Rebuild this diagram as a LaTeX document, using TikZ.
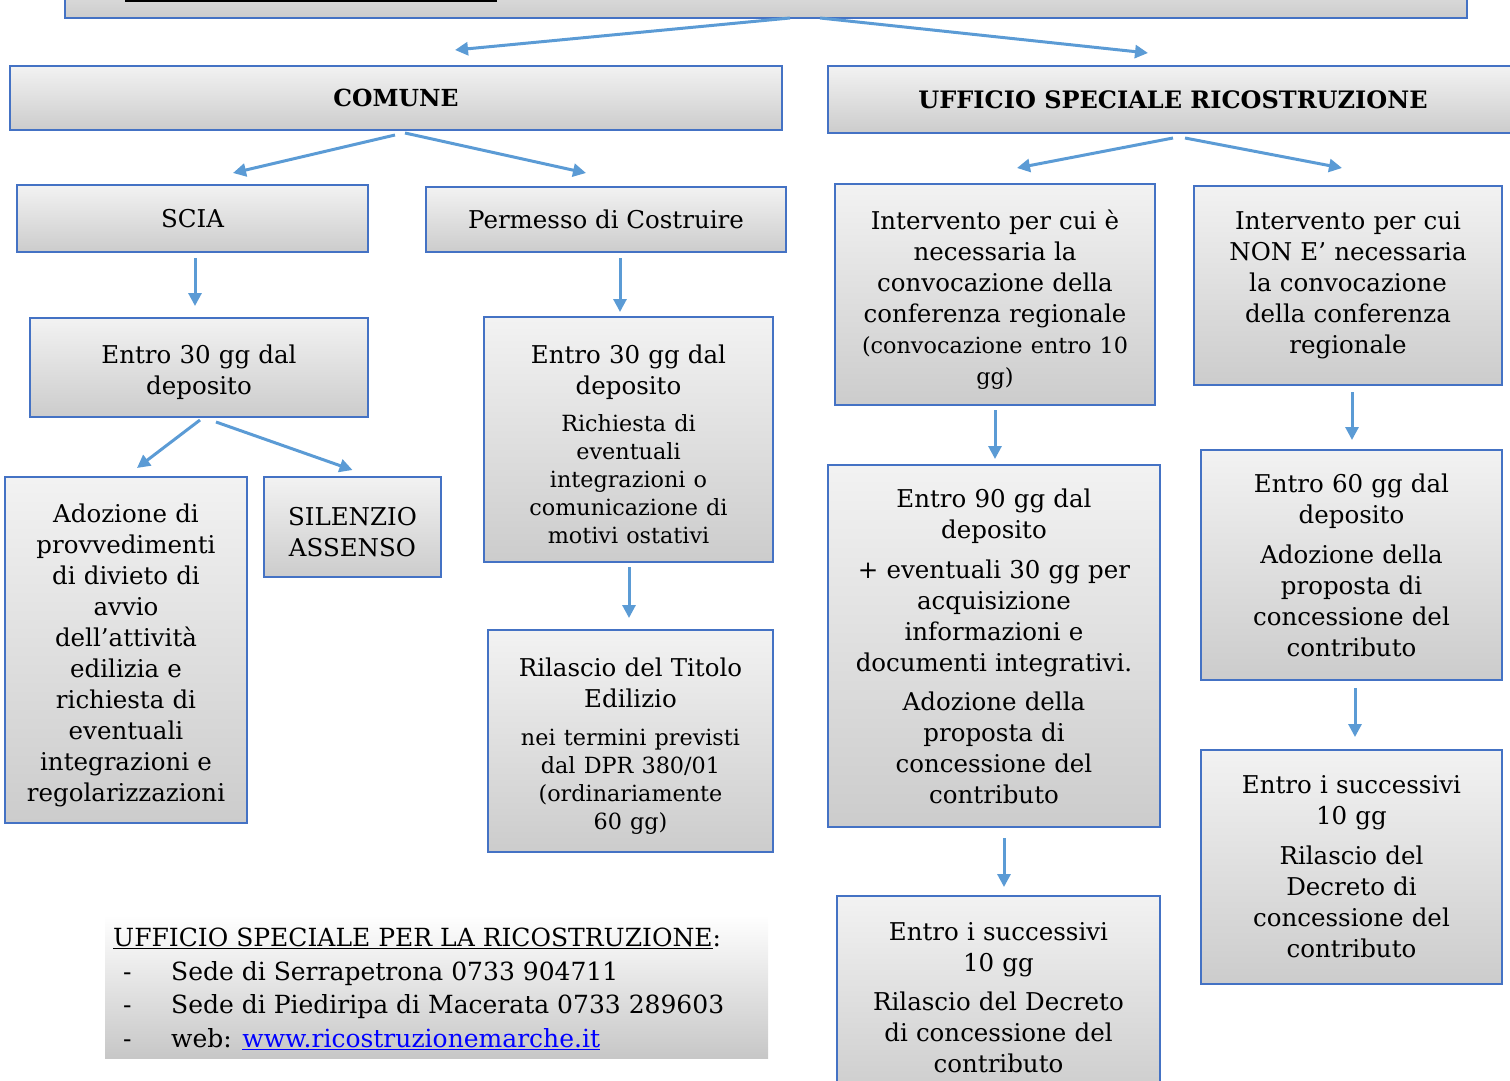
\documentclass[tikz,border=0pt]{standalone}
\usepackage{fontspec}
\setmainfont{DejaVu Serif}
\usetikzlibrary{arrows.meta,calc}
\definecolor{boxblue}{HTML}{4472C4}
\definecolor{arrblue}{HTML}{5B9BD5}
\definecolor{linkblue}{HTML}{0000FF}
\newcommand{\mf}{\fontsize{24.5}{31}\selectfont}
\newcommand{\sm}{\fontsize{22.3}{28}\selectfont}
\newcommand{\ff}{\fontsize{25}{33}\selectfont}
\newcommand{\dn}{\rule{0pt}{29pt}}
\begin{document}
\begin{tikzpicture}[x=1pt,y=-1pt,
  box/.style={draw=boxblue, line width=2.5pt, top color=black!5, middle color=white, bottom color=black!20,
    inner sep=0pt, outer sep=0pt, align=center, font=\mf},
  foot/.style={anchor=base west, inner sep=0pt, font=\ff},
  arr/.style={draw=arrblue, line width=3pt, -{Triangle[length=13pt,width=13pt]}}]
\useasboundingbox (0,0) rectangle (1510,1081);

% top box (clipped at the page edge)
\node[box, minimum width=1402, minimum height=60] (top) at (766,-12) {};
\draw[black, line width=3pt] (125,1) -- (497,1);

\node[box, minimum width=772, minimum height=64] (comune) at (396,98) {\raisebox{-4pt}{\fontsize{23.5}{28}\selectfont\bfseries COMUNE}};
\node[box, minimum width=690, minimum height=67] (usr) at (1173,99.5) {\raisebox{-2pt}{\fontsize{24}{28}\selectfont\bfseries UFFICIO SPECIALE RICOSTRUZIONE}};

\node[box, minimum width=351, minimum height=67] (scia) at (192.5,218.5) {\raisebox{-3pt}{SCIA}};
\node[box, minimum width=360, minimum height=65] (perm) at (606,219.5) {\raisebox{-3pt}{Permesso di Costruire}};

\node[box, minimum width=338, minimum height=99, text width=330] (e30a) at (199,367.5) {\dn Entro 30 gg dal\\deposito};
\node[box, minimum width=242, minimum height=346, text width=240] (adoz) at (126,650)
  {\dn Adozione di\\provvedimenti\\di divieto di\\avvio\\dell’attività\\edilizia e\\richiesta di\\eventuali\\integrazioni e\\regolarizzazioni};
\node[box, minimum width=177, minimum height=100, text width=172] (sil) at (352.5,527) {\dn SILENZIO\\ASSENSO};

\node[box, minimum width=289, minimum height=245, text width=284] (e30b) at (628.5,439.5)
  {\mf\dn Entro 30 gg dal\\deposito\par\vspace{9pt}\sm Richiesta di\\eventuali\\integrazioni o\\comunicazione di\\motivi ostativi\par};
\node[box, minimum width=285, minimum height=222, text width=280] (ril) at (630.5,741)
  {\mf\dn Rilascio del Titolo\\Edilizio\par\vspace{10pt}\sm nei termini previsti\\dal DPR 380/01\\(ordinariamente\\60 gg)\par};

\node[box, minimum width=320, minimum height=221, text width=316] (int1) at (995,294.5)
  {\mf\dn Intervento per cui è\\necessaria la\\convocazione della\\conferenza regionale\par\fontsize{22.3}{31}\selectfont (convocazione entro 10\\gg)\par};
\node[box, minimum width=308, minimum height=199, text width=304] (int2) at (1348,285.5)
  {Intervento per cui\\NON E’ necessaria\\la convocazione\\della conferenza\\regionale};

\node[box, minimum width=332, minimum height=362, text width=328] (e90) at (994,646)
  {\mf Entro 90 gg dal\\deposito\par\vspace{9pt}+ eventuali 30 gg per\\acquisizione\\informazioni e\\documenti integrativi.\par\vspace{8pt}Adozione della\\proposta di\\concessione del\\contributo\par};
\node[box, minimum width=301, minimum height=230, text width=296] (e60) at (1351.5,565)
  {\mf Entro 60 gg dal\\deposito\par\vspace{9pt}Adozione della\\proposta di\\concessione del\\contributo\par};
\node[box, minimum width=323, minimum height=204, text width=318] (succ1) at (998.5,998)
  {\mf Entro i successivi\\10 gg\par\vspace{8pt}Rilascio del Decreto\\di concessione del\\contributo\par};
\node[box, minimum width=301, minimum height=234, text width=296] (succ2) at (1351.5,867)
  {\mf Entro i successivi\\10 gg\par\vspace{9pt}Rilascio del\\Decreto di\\concessione del\\contributo\par};

% footer
\node[inner sep=0pt, minimum width=663, minimum height=143, top color=white, middle color=white, bottom color=black!22] (footer) at (436.5,986.5) {};
\node[foot] (fh) at (113,946) {\underline{UFFICIO SPECIALE PER LA RICOSTRUZIONE}:};
\node[foot] (fd1) at (123,980) {-};
\node[foot] (ft1) at (171,980) {Sede di Serrapetrona 0733 904711};
\node[foot] (fd2) at (123,1013) {-};
\node[foot] (ft2) at (171,1013) {Sede di Piediripa di Macerata 0733 289603};
\node[foot] (fd3) at (123,1047) {-};
\node[foot] (ft3) at (171,1047) {web: \textcolor{linkblue}{\underline{www.ricostruzionemarche.it}}};

% connectors
\draw[arr] ([xshift=24pt]top.south) -- ([xshift=59pt,yshift=16pt]comune.north);
\draw[arr] ([xshift=54pt]top.south) -- ([xshift=-25pt,yshift=13pt]usr.north);
\draw[arr] ([xshift=-1pt,yshift=-5pt]comune.south) -- ([xshift=40.5pt,yshift=12pt]scia.north);
\draw[arr] ([xshift=9pt,yshift=-3pt]comune.south) -- ([xshift=-20pt,yshift=14pt]perm.north);
\draw[arr] ([yshift=-5pt]usr.south) -- ([xshift=22pt,yshift=16pt]int1.north);
\draw[arr] ([xshift=12pt,yshift=-5pt]usr.south) -- ([xshift=-6pt,yshift=18pt]int2.north);
\draw[arr] ([xshift=2.5pt,yshift=-6pt]scia.south) -- ([xshift=-4pt,yshift=12pt]e30a.north);
\draw[arr] ([xshift=14pt,yshift=-6pt]perm.south) -- ([xshift=-8.5pt,yshift=5pt]e30b.north);
\draw[arr] ([xshift=1pt,yshift=-3pt]e30a.south) -- ([xshift=11pt,yshift=9pt]adoz.north);
\draw[arr] ([xshift=17pt,yshift=-5pt]e30a.south) -- ([yshift=7pt]sil.north);
\draw[arr] ([xshift=0.5pt,yshift=-5pt]e30b.south) -- ([xshift=-1.5pt,yshift=12pt]ril.north);
\draw[arr] ([yshift=-5pt]int1.south) -- ([xshift=1pt,yshift=6pt]e90.north);
\draw[arr] ([xshift=4pt,yshift=-7pt]int2.south) -- ([xshift=0.5pt,yshift=10pt]e60.north);
\draw[arr] ([xshift=10pt,yshift=-11pt]e90.south) -- ([xshift=5.5pt,yshift=9pt]succ1.north);
\draw[arr] ([xshift=3.5pt,yshift=-8pt]e60.south) -- ([xshift=3.5pt,yshift=13pt]succ2.north);
\end{tikzpicture}
\end{document}
